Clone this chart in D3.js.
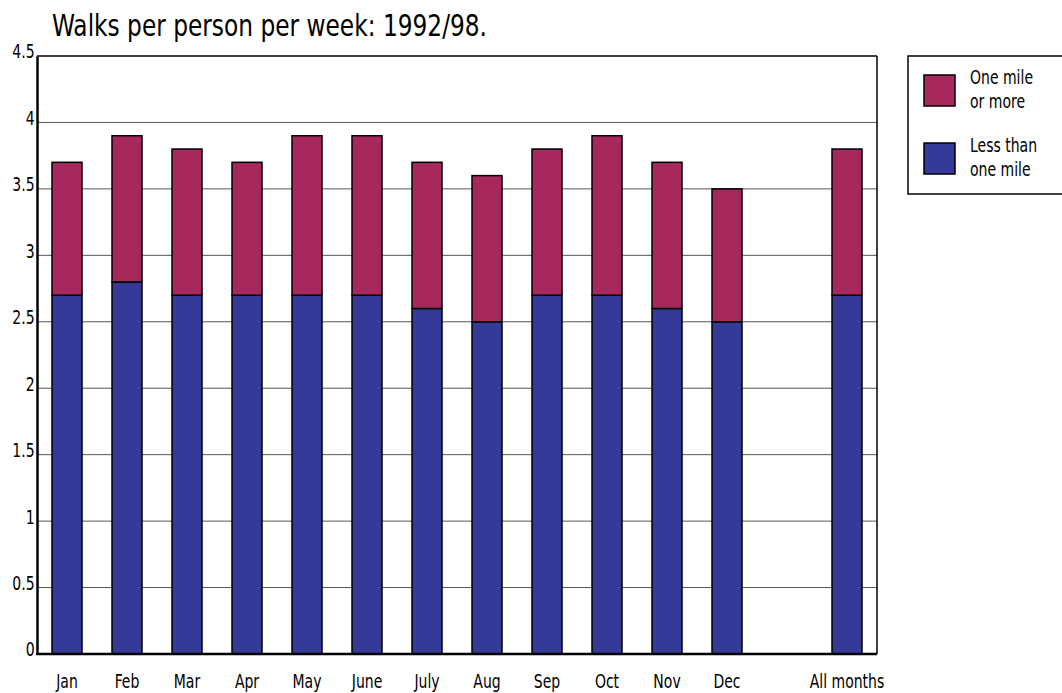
<!DOCTYPE html>
<html>
<head>
<meta charset="utf-8">
<script src="https://cdn.jsdelivr.net/npm/d3@7"></script>
<style>
  body { margin: 0; background: #fff; }
  text { font-family: "DejaVu Sans Condensed", "Liberation Sans Narrow", "DejaVu Sans", sans-serif; font-stretch: condensed; fill: #000; }
</style>
</head>
<body>
<svg id="chart" width="1062" height="693"></svg>
<script>
// categories, with an empty slot before the overall figure
var categories = ["Jan", "Feb", "Mar", "Apr", "May", "June", "July", "Aug", "Sep", "Oct", "Nov", "Dec", "", "All months"];
var lessThanMile = [2.7, 2.8, 2.7, 2.7, 2.7, 2.7, 2.6, 2.5, 2.7, 2.7, 2.6, 2.5, null, 2.7];
var oneMileOrMore = [1.0, 1.1, 1.1, 1.0, 1.2, 1.2, 1.1, 1.1, 1.1, 1.2, 1.1, 1.0, null, 1.1];
var yTicks = [0, 0.5, 1, 1.5, 2, 2.5, 3, 3.5, 4, 4.5];
var seriesNames = ["One mile\nor more", "Less than\none mile"];
var colors = { less: "#353a98", more: "#a6285c" };

(function() {

    var svg = d3.select("#chart");
    var pLeft = 37, pRight = 877, pTop = 56, pBottom = 654;
    var squeeze = 0.82; // the source font is a narrow one

    var x = d3.scaleBand()
        .domain(categories.map(function(d, i) { return i; }))
        .range([pLeft, pRight])
        .paddingInner(0.5)
        .paddingOuter(0.25);

    var y = d3.scaleLinear()
        .domain([0, 4.5])
        .range([pBottom, pTop]);

    // title
    svg.append("text")
        .attr("x", 52)
        .attr("y", 36)
        .attr("textLength", 435)
        .attr("lengthAdjust", "spacingAndGlyphs")
        .style("font-size", "31px")
        .text("Walks per person per week: 1992/98.");

    // grid lines
    svg.selectAll("line.grid")
        .data(yTicks.filter(function(d) { return d > 0 && d < 4.5; }))
        .enter()
        .append("line")
        .attr("class", "grid")
        .attr("x1", pLeft)
        .attr("x2", pRight)
        .attr("y1", function(d) { return y(d); })
        .attr("y2", function(d) { return y(d); })
        .style("stroke", "#555")
        .style("stroke-width", 1);

    // frame top and right
    svg.append("line")
        .attr("x1", pLeft).attr("x2", pRight)
        .attr("y1", y(4.5)).attr("y2", y(4.5))
        .style("stroke", "#000").style("stroke-width", 1.5);
    svg.append("line")
        .attr("x1", pRight).attr("x2", pRight)
        .attr("y1", pTop).attr("y2", pBottom)
        .style("stroke", "#000").style("stroke-width", 1.5);

    // stacked bars
    var rows = categories.map(function(c, i) {
        return { i: i, less: lessThanMile[i], more: oneMileOrMore[i] };
    }).filter(function(d) { return d.less !== null; });

    var bars = svg.selectAll("g.bar")
        .data(rows)
        .enter()
        .append("g")
        .attr("class", "bar");

    bars.append("rect")
        .attr("x", function(d) { return x(d.i); })
        .attr("width", x.bandwidth())
        .attr("y", function(d) { return y(d.less); })
        .attr("height", function(d) { return y(0) - y(d.less); })
        .style("fill", colors.less)
        .style("stroke", "#000")
        .style("stroke-width", 1.5);

    bars.append("rect")
        .attr("x", function(d) { return x(d.i); })
        .attr("width", x.bandwidth())
        .attr("y", function(d) { return y(d.less + d.more); })
        .attr("height", function(d) { return y(d.less) - y(d.less + d.more); })
        .style("fill", colors.more)
        .style("stroke", "#000")
        .style("stroke-width", 1.5);

    // y axis
    var yAxis = d3.axisLeft(y)
        .tickValues(yTicks)
        .tickSize(0)
        .tickPadding(3)
        .tickFormat(function(d) { return d; });

    var gy = svg.append("g")
        .attr("transform", "translate(" + pLeft + ",0)")
        .call(yAxis);
    gy.select(".domain").style("stroke", "#000").style("stroke-width", 2.5);
    gy.selectAll("text")
        .attr("dy", "0.1em")
        .attr("transform", "scale(" + squeeze + ",1)")
        .style("font-size", "19px").style("font-family", null);

    // x axis
    var xAxis = d3.axisBottom(x)
        .tickSize(0)
        .tickPadding(21)
        .tickFormat(function(i) { return categories[i]; });

    var gx = svg.append("g")
        .attr("transform", "translate(0," + pBottom + ")")
        .call(xAxis);
    gx.select(".domain").attr("d", "M" + (pLeft - 1) + ",0H" + pRight).style("stroke", "#000").style("stroke-width", 2.5);
    gx.selectAll("text")
        .attr("transform", "scale(" + squeeze + ",1)")
        .style("font-size", "19px").style("font-family", null);

    // legend
    var legend = svg.append("g");
    legend.append("rect")
        .attr("x", 908).attr("y", 56)
        .attr("width", 160).attr("height", 138)
        .style("fill", "#fff").style("stroke", "#000").style("stroke-width", 1.5);

    var legendItems = [
        { name: seriesNames[0], color: colors.more, y: 75 },
        { name: seriesNames[1], color: colors.less, y: 143 }
    ];

    legendItems.forEach(function(item) {
        legend.append("rect")
            .attr("x", 924).attr("y", item.y)
            .attr("width", 31).attr("height", 31)
            .style("fill", item.color).style("stroke", "#000").style("stroke-width", 1.5);
        var t = legend.append("text")
            .attr("transform", "translate(970," + (item.y + 9) + ") scale(" + squeeze + ",1)")
            .style("font-size", "19px");
        item.name.split("\n").forEach(function(line, k) {
            t.append("tspan").attr("x", 0).attr("dy", k === 0 ? 0 : 24).text(line);
        });
    });

})();
</script>
</body>
</html>
